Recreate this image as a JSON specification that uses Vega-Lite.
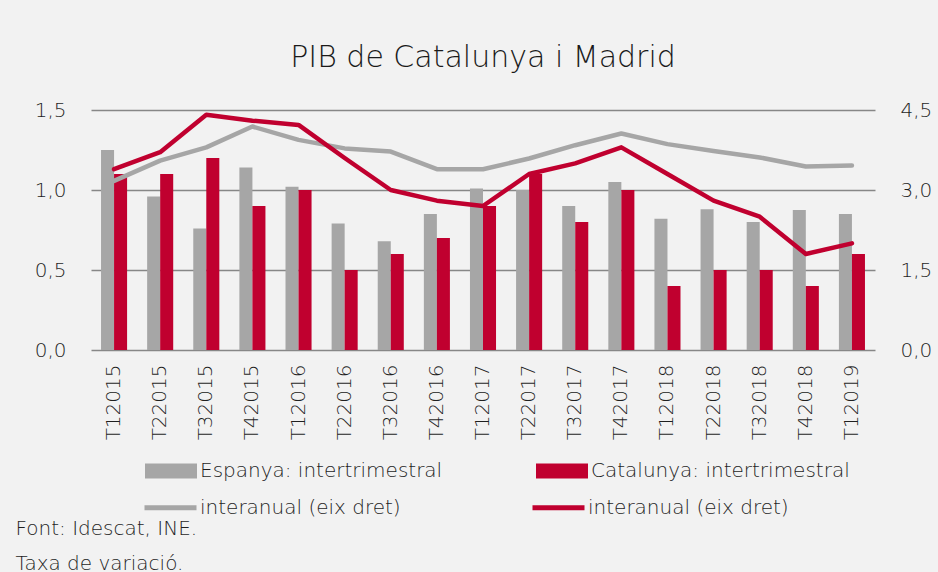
{
  "$schema": "https://vega.github.io/schema/vega-lite/v6.json",
  "width": 784,
  "height": 240,
  "autosize": {"type": "none"},
  "padding": {"left": 91, "top": 110, "right": 63, "bottom": 222},
  "background": "#f2f2f2",
  "config": {
    "view": {"stroke": null},
    "font": "DejaVu Sans",
    "axis": {"labelFont": "DejaVu Sans", "labelFontWeight": 300, "labelColor": "#1f1f1f", "labelFontSize": 20, "titleFont": "DejaVu Sans"},
    "legend": {"labelFont": "DejaVu Sans", "labelFontWeight": 300, "labelColor": "#1f1f1f", "labelFontSize": 20, "padding": 0}
  },
  "title": {
    "text": "PIB de Catalunya i Madrid",
    "font": "DejaVu Sans",
    "fontSize": 30,
    "fontWeight": 300,
    "color": "#1a1a1a",
    "anchor": "middle",
    "offset": 27
  },
  "data": {
    "values": [
      {"q": "T12015", "pais": "Espanya", "linia": "Espanya interanual", "inter": 1.25, "anual": 3.17},
      {"q": "T22015", "pais": "Espanya", "linia": "Espanya interanual", "inter": 0.96, "anual": 3.55},
      {"q": "T32015", "pais": "Espanya", "linia": "Espanya interanual", "inter": 0.76, "anual": 3.8},
      {"q": "T42015", "pais": "Espanya", "linia": "Espanya interanual", "inter": 1.14, "anual": 4.19},
      {"q": "T12016", "pais": "Espanya", "linia": "Espanya interanual", "inter": 1.02, "anual": 3.94},
      {"q": "T22016", "pais": "Espanya", "linia": "Espanya interanual", "inter": 0.79, "anual": 3.78},
      {"q": "T32016", "pais": "Espanya", "linia": "Espanya interanual", "inter": 0.68, "anual": 3.72},
      {"q": "T42016", "pais": "Espanya", "linia": "Espanya interanual", "inter": 0.85, "anual": 3.39},
      {"q": "T12017", "pais": "Espanya", "linia": "Espanya interanual", "inter": 1.01, "anual": 3.39},
      {"q": "T22017", "pais": "Espanya", "linia": "Espanya interanual", "inter": 1.0, "anual": 3.59},
      {"q": "T32017", "pais": "Espanya", "linia": "Espanya interanual", "inter": 0.9, "anual": 3.84},
      {"q": "T42017", "pais": "Espanya", "linia": "Espanya interanual", "inter": 1.05, "anual": 4.06},
      {"q": "T12018", "pais": "Espanya", "linia": "Espanya interanual", "inter": 0.82, "anual": 3.86},
      {"q": "T22018", "pais": "Espanya", "linia": "Espanya interanual", "inter": 0.88, "anual": 3.73},
      {"q": "T32018", "pais": "Espanya", "linia": "Espanya interanual", "inter": 0.8, "anual": 3.61},
      {"q": "T42018", "pais": "Espanya", "linia": "Espanya interanual", "inter": 0.875, "anual": 3.44},
      {"q": "T12019", "pais": "Espanya", "linia": "Espanya interanual", "inter": 0.85, "anual": 3.46},
      {"q": "T12015", "pais": "Catalunya", "linia": "Catalunya interanual", "inter": 1.1, "anual": 3.39},
      {"q": "T22015", "pais": "Catalunya", "linia": "Catalunya interanual", "inter": 1.1, "anual": 3.71},
      {"q": "T32015", "pais": "Catalunya", "linia": "Catalunya interanual", "inter": 1.2, "anual": 4.41},
      {"q": "T42015", "pais": "Catalunya", "linia": "Catalunya interanual", "inter": 0.9, "anual": 4.3},
      {"q": "T12016", "pais": "Catalunya", "linia": "Catalunya interanual", "inter": 1.0, "anual": 4.22},
      {"q": "T22016", "pais": "Catalunya", "linia": "Catalunya interanual", "inter": 0.5, "anual": 3.6},
      {"q": "T32016", "pais": "Catalunya", "linia": "Catalunya interanual", "inter": 0.6, "anual": 3.0},
      {"q": "T42016", "pais": "Catalunya", "linia": "Catalunya interanual", "inter": 0.7, "anual": 2.8},
      {"q": "T12017", "pais": "Catalunya", "linia": "Catalunya interanual", "inter": 0.9, "anual": 2.7},
      {"q": "T22017", "pais": "Catalunya", "linia": "Catalunya interanual", "inter": 1.1, "anual": 3.3},
      {"q": "T32017", "pais": "Catalunya", "linia": "Catalunya interanual", "inter": 0.8, "anual": 3.5},
      {"q": "T42017", "pais": "Catalunya", "linia": "Catalunya interanual", "inter": 1.0, "anual": 3.8},
      {"q": "T12018", "pais": "Catalunya", "linia": "Catalunya interanual", "inter": 0.4, "anual": 3.3},
      {"q": "T22018", "pais": "Catalunya", "linia": "Catalunya interanual", "inter": 0.5, "anual": 2.8},
      {"q": "T32018", "pais": "Catalunya", "linia": "Catalunya interanual", "inter": 0.5, "anual": 2.5},
      {"q": "T42018", "pais": "Catalunya", "linia": "Catalunya interanual", "inter": 0.4, "anual": 1.8},
      {"q": "T12019", "pais": "Catalunya", "linia": "Catalunya interanual", "inter": 0.6, "anual": 2.0}
    ]
  },
  "encoding": {
    "x": {
      "field": "q",
      "type": "nominal",
      "sort": null,
      "scale": {"paddingInner": 0.435, "paddingOuter": 0.2175},
      "axis": {
        "labelAngle": -90,
        "labelPadding": 14,
        "ticks": false,
        "domain": false,
        "grid": false,
        "title": ["Font: Idescat, INE.", "Taxa de variació."],
        "titleX": -76,
        "titleY": 184,
        "titleAlign": "left",
        "titleAnchor": null,
        "titleAngle": 0,
        "titleBaseline": "alphabetic",
        "titleFontSize": 20,
        "titleFontWeight": 300,
        "titleColor": "#1f1f1f",
        "titleLineHeight": 35
      }
    }
  },
  "layer": [
    {
      "mark": {"type": "bar"},
      "encoding": {
        "xOffset": {"field": "pais", "type": "nominal", "scale": {"domain": ["Espanya", "Catalunya"], "paddingInner": 0}},
        "y": {
          "field": "inter",
          "type": "quantitative",
          "scale": {"domain": [0, 1.5], "nice": false},
          "axis": {
            "orient": "left",
            "values": [0, 0.5, 1, 1.5],
            "labelExpr": "replace(format(datum.value, '.1f'), '.', ',')",
            "grid": true,
            "gridColor": "#878787",
            "gridWidth": 1.6,
            "domain": false,
            "ticks": false,
            "labelPadding": 25,
            "title": null
          }
        },
        "fill": {
          "field": "pais",
          "type": "nominal",
          "scale": {"domain": ["Espanya", "Catalunya"], "range": ["#a6a6a6", "#c0002f"]},
          "legend": {
            "orient": "none",
            "legendX": 54,
            "legendY": 335,
            "direction": "horizontal",
            "columns": 2,
            "columnPadding": 93,
            "title": null,
            "symbolType": "M-1,-0.29H1V0.29H-1Z",
            "symbolSize": 2704,
            "symbolStrokeWidth": 0,
            "labelOffset": 3,
            "labelLimit": 400,
            "labelExpr": "datum.label + ': intertrimestral'"
          }
        }
      }
    },
    {
      "mark": {"type": "line", "strokeWidth": 4.5, "strokeCap": "round", "strokeJoin": "round"},
      "encoding": {
        "y": {
          "field": "anual",
          "type": "quantitative",
          "scale": {"domain": [0, 4.5], "nice": false},
          "axis": {
            "orient": "right",
            "values": [0, 1.5, 3, 4.5],
            "labelExpr": "replace(format(datum.value, '.1f'), '.', ',')",
            "grid": false,
            "domain": false,
            "ticks": false,
            "labelPadding": 25,
            "title": null
          }
        },
        "stroke": {
          "field": "linia",
          "type": "nominal",
          "scale": {"domain": ["Espanya interanual", "Catalunya interanual"], "range": ["#a6a6a6", "#c0002f"]},
          "legend": {
            "orient": "none",
            "legendX": 51,
            "legendY": 369,
            "direction": "horizontal",
            "columns": 2,
            "columnPadding": 121,
            "title": null,
            "symbolType": "stroke",
            "symbolSize": 2704,
            "symbolStrokeWidth": 5,
            "labelOffset": 1,
            "labelLimit": 400,
            "labelExpr": "'interanual (eix dret)'"
          }
        }
      }
    }
  ],
  "resolve": {"scale": {"y": "independent"}}
}
